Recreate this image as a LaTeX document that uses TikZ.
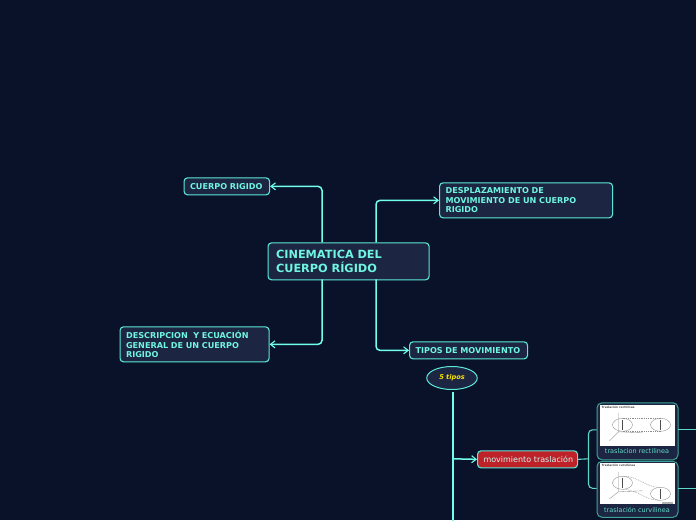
\documentclass[tikz,border=0pt]{standalone}
\usepackage{fontspec}
\setmainfont{DejaVu Sans}
\usetikzlibrary{arrows.meta,shapes.geometric}
\definecolor{bg}{HTML}{0A1229}
\definecolor{fillc}{HTML}{1C2541}
\definecolor{line}{HTML}{5BE8D6}
\definecolor{linkc}{HTML}{6FFFEA}
\definecolor{redc}{HTML}{BE2128}
\definecolor{txtc}{HTML}{6FF5E2}
\tikzset{
  x=1pt,y=-1pt,
  box/.style={draw=line,fill=fillc,line width=1.1pt,rounded corners=3.5pt,minimum width=#1,inner sep=0pt,anchor=north west,text=txtc,font=\bfseries\fontsize{8.1}{9.5}\selectfont,align=left},
  conn/.style={draw=linkc,line width=1.5pt,rounded corners=4pt,-{Straight Barb[length=4.5pt,width=7pt,line width=1.1pt]}},
  plain/.style={draw=linkc!85!black,line width=1.1pt,rounded corners=4pt},
  photo/.style={draw=#1,fill=fillc,line width=1pt,rounded corners=5pt},
  sk/.style={draw=black!45,line width=.35pt},
  skb/.style={draw=black!70,line width=.7pt},
  ttl/.style={text=black!70,font=\bfseries\fontsize{2.9}{3}\selectfont,inner sep=0pt,anchor=west},
  captxt/.style={text=txtc!90!black,font=\fontsize{6.5}{8}\selectfont},
}
\begin{document}
\begin{tikzpicture}
\useasboundingbox (0,0) rectangle (696,520);
\fill[bg] (0,0) rectangle (696,520);
\path[clip] (0,0) rectangle (696,520);
\begin{scope}[shift={(-0.5,-0.2)}]
% nodes
\node[box=161pt,minimum height=37pt,font=\bfseries\fontsize{11.3}{14}\selectfont,text width=161pt] (root) at (268,242.5) {\hspace*{8pt}CINEMATICA DEL\\\hspace*{8pt}CUERPO RÍGIDO};
\node[box=85.5pt,minimum height=17pt,text width=85.5pt] (cr) at (184,177.5) {\hspace*{6pt}CUERPO RIGIDO};
\node[box=173pt,minimum height=35pt,text width=173pt] (dm) at (439.5,182.5) {\hspace*{6pt}DESPLAZAMIENTO DE\\\hspace*{6pt}MOVIMIENTO DE UN CUERPO\\\hspace*{6pt}RIGIDO};
\node[box=149pt,minimum height=35pt,text width=149pt] (de) at (120,326.5) {\hspace*{6pt}DESCRIPCION\ \ Y ECUACIÓN\\\hspace*{6pt}GENERAL DE UN CUERPO\\\hspace*{6pt}RIGIDO};
\node[box=118pt,minimum height=17pt,text width=118pt] (tm) at (409.5,341.5) {\hspace*{6pt}TIPOS DE MOVIMIENTO};
% ellipse
\node[draw=line,fill=fillc,line width=1pt,ellipse,minimum width=50.5pt,minimum height=23pt,inner sep=0pt,text=yellow!90!orange,font=\bfseries\itshape\fontsize{6.6}{8}\selectfont] (five) at (452.5,378.2) {5 tipos};
\node[box=100pt,minimum height=17pt,text width=100pt,fill=redc,font=\fontsize{8}{10}\selectfont,text=white!70!line] (mt) at (477.5,450.5) {\hspace*{6pt}movimiento traslación};
% connectors
\coordinate (rA) at (322.5,242.5);
\coordinate (rB) at (376.5,242.5);
\coordinate (rC) at (322.5,279.5);
\coordinate (rD) at (376.5,279.5);
\draw[conn] (rA) |- (cr.east);
\draw[conn] (rB) |- (dm.west);
\draw[conn] (rC) |- (de.east);
\draw[conn] (rD) |- (tm.west);
\coordinate (tr) at (453.5,392.5);
\coordinate (tb) at (453.5,522);
\draw[draw=linkc,line width=1.7pt] (tr) -- (tb);
\draw[conn] (453.5,459) -- (mt.west);
% thumbnails
\node[photo=line!70!black,minimum width=81pt,minimum height=57pt,inner sep=0pt,anchor=north west] (p1) at (597,402.5) {};
\node[photo=line!70!black,minimum width=81pt,minimum height=56pt,inner sep=0pt,anchor=north west] (p2) at (597,461) {};
\fill[white] (600.5,405) rectangle (675,446);
\fill[white] (600.5,463.5) rectangle (675,504.5);
\node[captxt] (t1) at (637.5,451.5) {traslacion rectilinea};
\node[captxt] (t2) at (637.5,510.5) {traslación curvilinea};
% sketch 1
\node[ttl] (h1) at (602,407.5) {Traslación rectilínea};
\draw[sk] (623,425) ellipse (10 and 6.5) (661,425) ellipse (10 and 6.5);
\draw[sk,dash pattern=on 1pt off .8pt] (623,418.5) -- (661,418.5) (623,431.5) -- (661,431.5);
\draw[skb] (623,420) -- (623,430) (661,420) -- (661,430);
\draw[sk] (619,413) -- (619,432) -- (643,433) (619,432) -- (610,441);
% sketch 2
\node[ttl] (h2) at (602,466) {Traslación curvilínea};
\draw[sk] (623,483) ellipse (10 and 6.5) (661,494) ellipse (10 and 6.5);
\draw[sk,dash pattern=on 1pt off .8pt] (623,476.5) .. controls (640,476) and (645,488) .. (661,487.5);
\draw[sk,dash pattern=on 1pt off .8pt] (623,489.5) .. controls (640,490) and (645,501) .. (661,500.5);
\draw[skb] (623,478) -- (623,488) (661,489) -- (661,499);
\draw[sk] (619,472) -- (619,492) -- (643,491) (619,492) -- (610,499);
\fill[black!30] (662,502) rectangle (673,504);
% right brace
\coordinate (bj) at (589,459);
\draw[plain] (mt.east) -- (bj);
\coordinate (b1) at (597,430);
\coordinate (b2) at (597,488.5);
\coordinate (c1) at (678,429.5);
\coordinate (c2) at (678,488.5);
\coordinate (e1) at (698,429.5);
\coordinate (e2) at (698,488.5);
\draw[plain] (b1) -- (589,430) -- (589,488.5) -- (b2);
\draw[plain] (c1) -- (e1);
\draw[plain] (c2) -- (e2);
\end{scope}
\end{tikzpicture}
\end{document}
